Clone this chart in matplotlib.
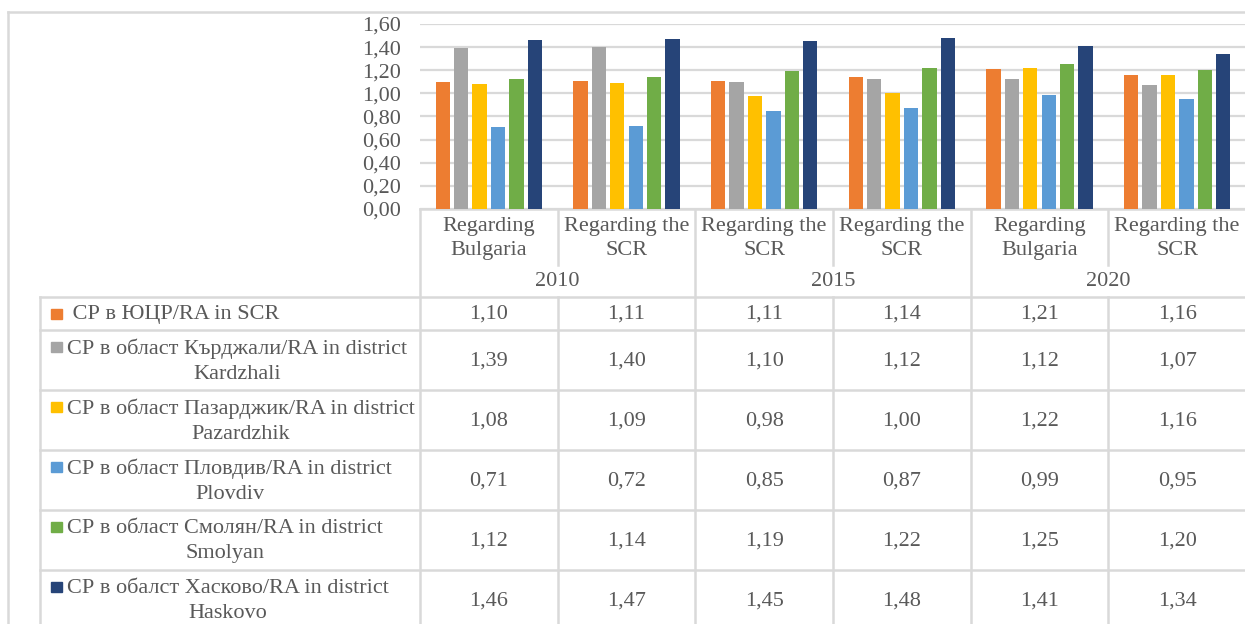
import matplotlib
matplotlib.use('Agg')
import matplotlib.pyplot as plt
from matplotlib.transforms import blended_transform_factory
import numpy as np

years = ['2010', '2015', '2020']
categories = ['Regarding\nBulgaria', 'Regarding the\nSCR',
              'Regarding the\nSCR', 'Regarding the\nSCR',
              'Regarding\nBulgaria', 'Regarding the\nSCR']
series_labels = [
    ' СР в ЮЦР/RA in SCR',
    'СР в област Кърджали/RA in district\nKardzhali',
    'СР в област Пазарджик/RA in district\nPazardzhik',
    'СР в област Пловдив/RA in district\nPlovdiv',
    'СР в област Смолян/RA in district\nSmolyan',
    'СР в обалст Хасково/RA in district\nHaskovo',
]
ra_scr = [1.10, 1.11, 1.11, 1.14, 1.21, 1.16]
ra_kardzhali = [1.39, 1.40, 1.10, 1.12, 1.12, 1.07]
ra_pazardzhik = [1.08, 1.09, 0.98, 1.00, 1.22, 1.16]
ra_plovdiv = [0.71, 0.72, 0.85, 0.87, 0.99, 0.95]
ra_smolyan = [1.12, 1.14, 1.19, 1.22, 1.25, 1.20]
ra_haskovo = [1.46, 1.47, 1.45, 1.48, 1.41, 1.34]
series_values = [ra_scr, ra_kardzhali, ra_pazardzhik, ra_plovdiv, ra_smolyan, ra_haskovo]
colors = ['#ED7D31', '#A5A5A5', '#FFC000', '#5B9BD5', '#70AD47', '#264478']

plt.rcParams['font.family'] = ['Liberation Serif', 'DejaVu Serif']
text_color = '#595959'
line_color = '#D9D9D9'
fs = 16

W, H = 1245, 624
fig = plt.figure(figsize=(W / 100, H / 100), dpi=100)

# Overlay axes in pixel coordinates for the table / borders
ov = fig.add_axes([0, 0, 1, 1])
ov.set_xlim(0, W)
ov.set_ylim(H, 0)
ov.axis('off')

# Plot area
x0, x1, y_top, y_bot = 420, 1246, 24, 209
ax = fig.add_axes([x0 / W, 1 - y_bot / H, (x1 - x0) / W, (y_bot - y_top) / H])
n = len(categories)
step, width = 0.134, 0.104
xc = np.arange(n) + 0.5
for j, vals in enumerate(series_values):
    ax.bar(xc + (j - 2.5) * step, vals, width=width, color=colors[j], zorder=3)
ax.set_xlim(0, n)
ax.set_ylim(0, 1.6)
ticks = np.arange(0, 1.61, 0.2)
ax.set_yticks(ticks)
ax.set_yticklabels([f'{v:.2f}'.replace('.', ',') for v in ticks],
                   fontsize=fs, color=text_color)
ax.tick_params(axis='y', length=0, pad=14)
ax.set_xticks([])
ax.grid(axis='y', color=line_color, linewidth=1.6, zorder=0)
for s in ax.spines.values():
    s.set_visible(False)
ax.patch.set_alpha(0)

# x in bar-axis data units, y in pixels
tr = blended_transform_factory(ax.transData, ov.transData)
lw = 1.8

# outer chart border
ov.plot([8, W], [12, 12], color=line_color, lw=lw)
ov.plot([8, 8], [12, H], color=line_color, lw=lw)

# category axis (two levels)
ov.plot([x0, W], [y_bot, y_bot], color=line_color, lw=lw)
for i in range(n + 1):
    if i % 2 == 0:
        ov.plot([i, i], [y_bot, H], color=line_color, lw=lw, transform=tr)
    else:
        ov.plot([i, i], [y_bot, 265], color=line_color, lw=lw, transform=tr)
        ov.plot([i, i], [297, H], color=line_color, lw=lw, transform=tr)
for i, c in enumerate(categories):
    ov.text(i + 0.5, 238.5, c, ha='center', va='center', fontsize=fs, color=text_color,
            linespacing=1.35, transform=tr)
for k, y in enumerate(years):
    ov.text(2 * k + 1, 281, y, ha='center', va='center', fontsize=fs, color=text_color,
            transform=tr)

# data table
row_tops = [297, 330, 390, 450, 510, 570, 630]
for y in row_tops[:-1]:
    ov.plot([40, W], [y, y], color=line_color, lw=lw)
ov.plot([40, 40], [297, H], color=line_color, lw=lw)
for j, (lab, vals) in enumerate(zip(series_labels, series_values)):
    ymid = (row_tops[j] + row_tops[j + 1]) / 2
    nlines = lab.count('\n') + 1
    yfirst = ymid - 13 * (nlines - 1)
    ov.add_patch(plt.Rectangle((51, yfirst - 5), 11, 10, color=colors[j]))
    ov.text(67, ymid + 1, lab, ha='left', va='center', multialignment='center',
            fontsize=fs, color=text_color, linespacing=1.45)
    for i, v in enumerate(vals):
        ov.text(i + 0.5, ymid + 1, f'{v:.2f}'.replace('.', ','), ha='center', va='center',
                fontsize=fs, color=text_color, transform=tr)

plt.savefig('out.png', dpi=100)
plt.close()
